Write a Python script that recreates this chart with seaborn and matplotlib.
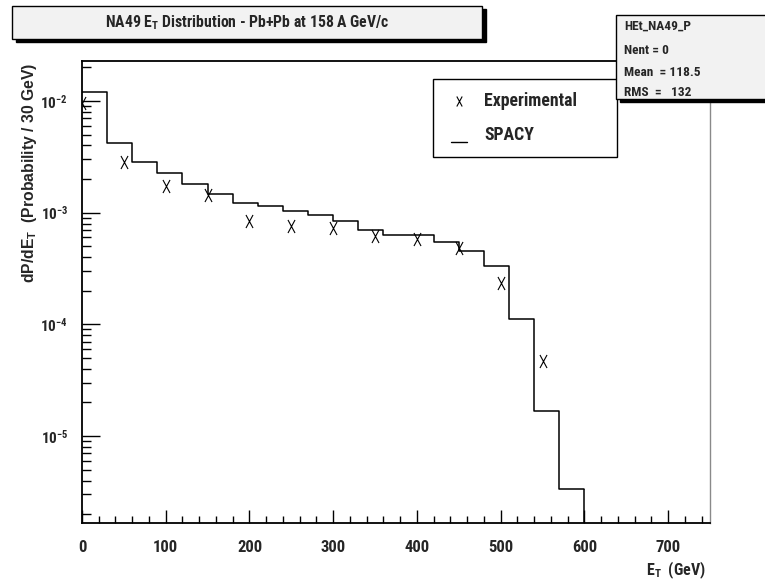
import os
import matplotlib
matplotlib.use("Agg")
import matplotlib.pyplot as plt
from matplotlib.path import Path
from matplotlib.patches import Rectangle
from matplotlib.lines import Line2D
from matplotlib.ticker import MultipleLocator, LogLocator, NullFormatter
from matplotlib.font_manager import FontProperties, fontManager
import seaborn as sns

# SPACY prediction, probability per 30 GeV bin
bin_edges = [0, 30, 60, 90, 120, 150, 180, 210, 240, 270, 300,
             330, 360, 390, 420, 450, 480, 510, 540, 570, 600]
spacy_prob = [1.21e-2, 4.23e-3, 2.83e-3, 2.28e-3, 1.81e-3, 1.47e-3,
              1.23e-3, 1.14e-3, 1.04e-3, 9.49e-4, 8.48e-4, 7.00e-4,
              6.28e-4, 6.28e-4, 5.50e-4, 4.51e-4, 3.33e-4, 1.11e-4,
              1.68e-5, 3.34e-6]

# NA49 measurement
exp_et = [0, 50, 100, 150, 200, 250, 300, 350, 400, 450, 500, 550]
exp_prob = [9.66e-3, 2.86e-3, 1.73e-3, 1.44e-3, 8.48e-4, 7.60e-4,
            7.25e-4, 6.22e-4, 5.78e-4, 4.80e-4, 2.36e-4, 4.73e-5]

xtick_values = [0, 100, 200, 300, 400, 500, 600, 700]
xtick_labels = ["0", "100", "200", "300", "400", "500", "600", "700"]
ytick_values = [1e-5, 1e-4, 1e-3, 1e-2]
ytick_labels = [r"$10^{-5}$", r"$10^{-4}$", r"$10^{-3}$", r"$10^{-2}$"]

title_text = r"NA49 E$_T$ Distribution - Pb+Pb at 158 A GeV/c"
xlabel_text = r"E$_T$  (GeV)"
ylabel_text = r"dP/dE$_T$  (Probability / 30 GeV)"
stats_lines = ["HEt_NA49_P", "Nent = 0", "Mean  = 118.5", "RMS  =   132"]
legend_labels = ["Experimental", "SPACY"]

sns.set_theme(style="white")
plt.rcParams["font.family"] = ["Liberation Sans", "DejaVu Sans"]
plt.rcParams["font.weight"] = "bold"
plt.rcParams["mathtext.default"] = "regular"


def narrow_bold_font():
    """Look for a condensed bold sans face among the installed fonts."""
    keys = ["liberationsansnarrowbold", "arialnarrowbold",
            "robotocondensedbold", "notosanscondensedbold",
            "opensanscondbold", "opensanscondensedbold",
            "dejavusanscondensedbold", "notosansdisplaycondensedbold"]
    found = []
    for f in fontManager.ttflist:
        base = os.path.basename(f.fname).lower()
        stem, ext = os.path.splitext(base)
        stem = stem.replace("-", "").replace("_", "").replace(" ", "")
        if stem in keys:
            found.append((keys.index(stem), f.fname))
    if found:
        found.sort()
        return FontProperties(fname=found[0][1])
    return FontProperties(family="Liberation Sans", weight="bold")


def font(size, base):
    fp = base.copy()
    fp.set_size(size)
    return fp


NARROW = narrow_bold_font()
WIDE = FontProperties(family="Liberation Sans", weight="bold")

W, H = 765, 582


def fx(px):
    return px / W


def fy(py):
    return 1 - py / H


fig = plt.figure(figsize=(W / 100, H / 100), dpi=100, facecolor="white")
ax = fig.add_axes([fx(82), fy(523), (710 - 82) / W, (523 - 61) / H])
ax.set_facecolor("white")

# simulated distribution as an outlined histogram
sns.histplot(x=bin_edges[:-1], weights=spacy_prob, bins=bin_edges,
             element="step", fill=False, color="black", linewidth=1.1,
             ax=ax)

# tall "X" marker for the measurement
xmark = Path([(-0.54, -1), (0.54, 1), (-0.54, 1), (0.54, -1)],
             [Path.MOVETO, Path.LINETO, Path.MOVETO, Path.LINETO])
sns.lineplot(x=exp_et, y=exp_prob, marker=xmark, linestyle="none",
             markersize=9.4, color="black", markeredgecolor="black",
             markeredgewidth=0.8, markerfacecolor="none", ax=ax)

ax.set_yscale("log")
ax.set_xlim(0, 750)
ax.set_ylim(1.667e-6, 2.28e-2)
ax.set_xlabel("")
ax.set_ylabel("")

# closing edge of the last filled bin down to the frame
ax.vlines(bin_edges[-1], ax.get_ylim()[0], spacy_prob[-1],
          color="black", linewidth=1.1)

ax.set_xticks(xtick_values, xtick_labels)
ax.xaxis.set_minor_locator(MultipleLocator(20))
ax.set_yticks(ytick_values, ytick_labels)
ax.yaxis.set_minor_locator(LogLocator(base=10, subs=[2, 3, 4, 5, 6, 7, 8, 9]))
ax.yaxis.set_minor_formatter(NullFormatter())

ax.tick_params(axis="both", which="both", direction="in", color="black",
               width=1.0, bottom=True, left=True, top=False, right=False)
ax.tick_params(axis="x", which="major", length=9.4, pad=12)
ax.tick_params(axis="x", which="minor", length=5.0)
ax.tick_params(axis="y", which="major", length=13, pad=10)
ax.tick_params(axis="y", which="minor", length=6.5)
for lbl in ax.get_xticklabels():
    lbl.set_fontproperties(font(12, NARROW))
for lbl in ax.get_yticklabels():
    lbl.set_fontproperties(font(11, NARROW))

for side in ["left", "bottom", "top"]:
    ax.spines[side].set_color("black")
    ax.spines[side].set_linewidth(1.3)
ax.spines["right"].set_color("#8a8a8a")
ax.spines["right"].set_linewidth(1.0)

# axis titles
fig.text(fx(706), fy(570), xlabel_text, ha="right", va="center",
         fontproperties=font(11.5, NARROW))
fig.text(fx(30), fy(63), ylabel_text, rotation=90, ha="center", va="top",
         fontproperties=font(11.3, WIDE))

# title pad with drop shadow
fig.add_artist(Rectangle((fx(16), fy(42)), (482 - 12) / W, (39 - 6) / H,
                         transform=fig.transFigure, facecolor="black",
                         edgecolor="black", zorder=5))
fig.add_artist(Rectangle((fx(12), fy(39)), (482 - 12) / W, (39 - 6) / H,
                         transform=fig.transFigure, facecolor="#f2f2f2",
                         edgecolor="black", linewidth=1.0, zorder=6))
fig.text(fx(247), fy(23), title_text, ha="center", va="center", zorder=7,
         fontproperties=font(11.3, NARROW))

# statistics pad
fig.add_artist(Rectangle((fx(620), fy(102)), (770 - 620) / W, (102 - 19) / H,
                         transform=fig.transFigure, facecolor="black",
                         edgecolor="black", zorder=5))
fig.add_artist(Rectangle((fx(616), fy(99)), (770 - 616) / W, (99 - 15) / H,
                         transform=fig.transFigure, facecolor="#f2f2f2",
                         edgecolor="black", linewidth=1.0, zorder=6))
for line, ypix in zip(stats_lines, [26.5, 51, 72.5, 92]):
    fig.text(fx(624), fy(ypix), line, ha="left", va="center", zorder=7,
             fontproperties=font(9.6, NARROW))

# legend pad
fig.add_artist(Rectangle((fx(433), fy(157)), (617 - 433) / W, (157 - 79) / H,
                         transform=fig.transFigure, facecolor="white",
                         edgecolor="black", linewidth=1.0, zorder=4))
fig.add_artist(Line2D([fx(459)], [fy(101)], marker=xmark, markersize=7.2,
                      color="black", markeredgewidth=0.8, linestyle="none",
                      transform=fig.transFigure, zorder=5))
fig.add_artist(Line2D([fx(451), fx(467)], [fy(142), fy(142)], color="black",
                      linewidth=1.0, transform=fig.transFigure, zorder=5))
for label, ypix in zip(legend_labels, [101.5, 134.5]):
    fig.text(fx(484), fy(ypix), label, ha="left", va="center", zorder=5,
             fontproperties=font(12.8, NARROW))

fig.savefig("out.png", dpi=100, facecolor="white")
